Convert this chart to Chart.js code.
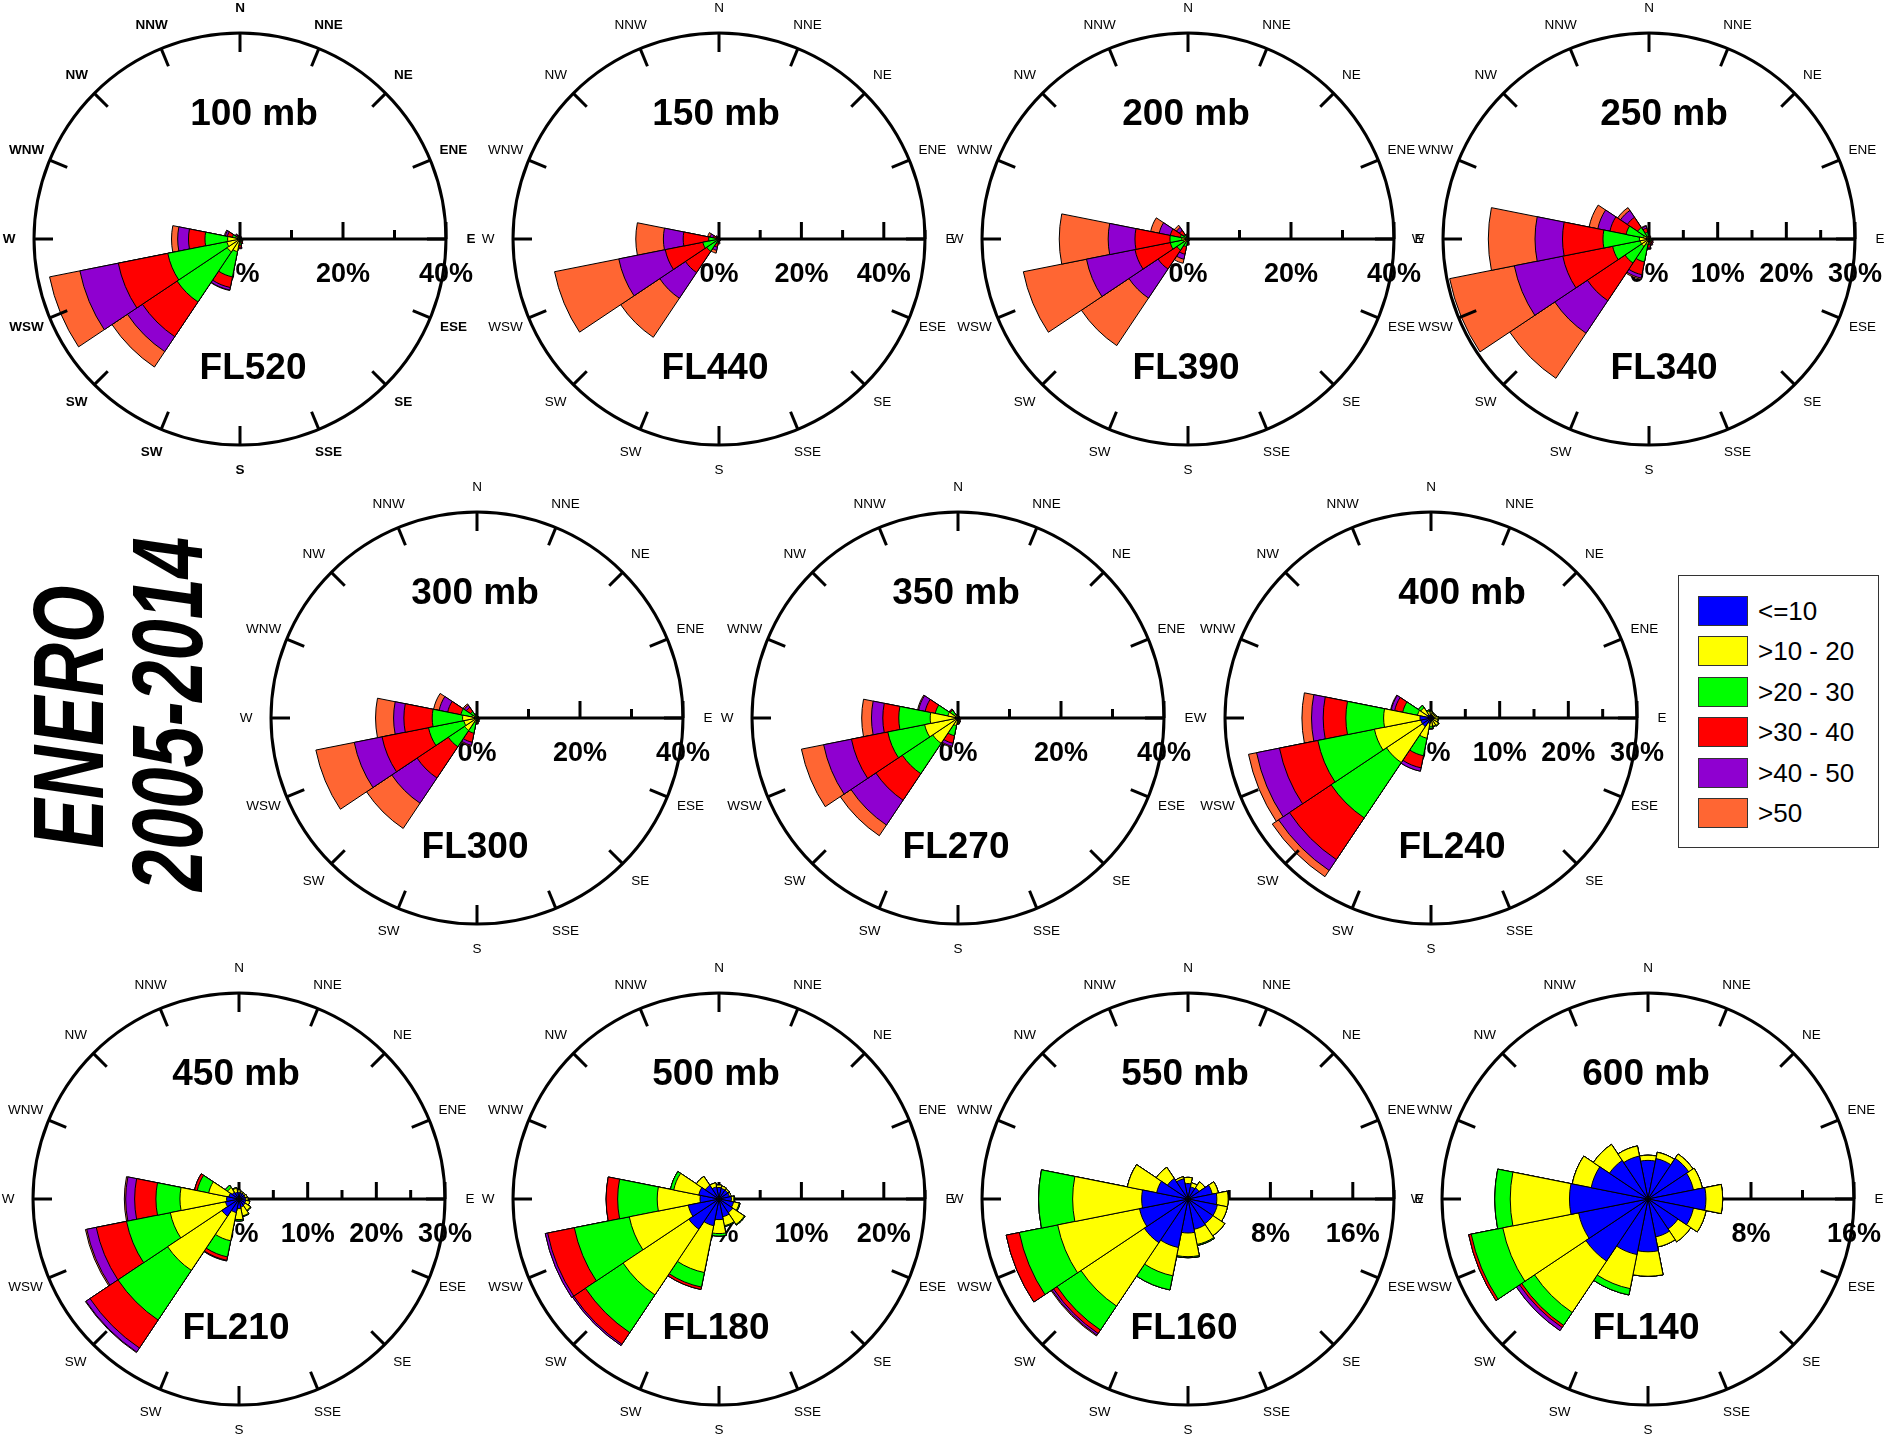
<!DOCTYPE html>
<html>
<head>
<meta charset="utf-8">
<title>ENERO 2005-2014</title>
<script src="https://cdn.jsdelivr.net/npm/chart.js@4.4.1/dist/chart.umd.min.js"></script>
<style>
  html, body { margin: 0; padding: 0; background: #fff; overflow: hidden; }
  #page { position: relative; width: 1887px; height: 1440px; overflow: hidden; background: #fff;
          font-family: "Liberation Sans", Arial, Helvetica, sans-serif; }
  #page canvas { position: absolute; }
  .side { position: absolute; font-weight: bold; font-style: italic; font-size: 100px; line-height: 1;
          white-space: nowrap; color: #000; transform-origin: center center;
          transform: translate(-50%, -50%) rotate(-90deg) scaleX(0.74); }
  #legend { position: absolute; left: 1678px; top: 575px; width: 201px; height: 273px;
            box-sizing: border-box; border: 1.5px solid #333; background: #fff; }
  #legend .item { position: absolute; left: 19px; height: 30px; display: flex; align-items: center; }
  #legend .sw { width: 50px; height: 30px; box-sizing: border-box; border: 1px solid #333; }
  #legend .tx { margin-left: 10px; font-size: 26px; line-height: 30px; color: #000; }
</style>
</head>
<body>
<div id="page">
  <div class="side" style="left:68px; top:717px;">ENERO</div>
  <div class="side" style="left:167px; top:714px;">2005-2014</div>
  <div id="legend"></div>
</div>
<script>
// Compass sectors, clockwise from north (label text as printed on the roses)
const directions = ['N','NNE','NE','ENE','E','ESE','SE','SSE','S','SW','SW','WSW','W','WNW','NW','NNW'];

// Wind speed classes (kt)
const speedClasses = ['<=10', '>10 - 20', '>20 - 30', '>30 - 40', '>40 - 50', '>50'];

// Frequency (%) per speed class (rows) and direction (columns), one table per pressure level
const mb100 = [
  [0,0,0,0,0,0,0,0,0.1,0.1,0.1,0.1,0.1,0.1,0,0],
  [0.2,0.2,0.2,0.2,0.2,0.2,0.2,0.3,0.4,2.4,2.9,2.5,2.3,0.7,0.3,0.2],
  [0.2,0.1,0.1,0.1,0.1,0.2,0.2,0.3,0.7,5.0,11.7,11.7,4.4,0.7,0.3,0.2],
  [0.1,0.1,0.1,0,0.1,0.1,0.2,0.3,0.4,2.1,8.1,9.8,3.2,1.0,0.3,0.2],
  [0.1,0.1,0,0,0,0.1,0.1,0.1,0.2,0.5,3.5,7.6,2.1,0.4,0.2,0.1],
  [0,0,0,0,0,0,0,0,0.1,0.1,3.6,6.0,1.2,0.2,0.1,0]
];
const mb150 = [
  [0,0,0,0,0,0,0,0,0,0,0,0,0,0,0,0],
  [0.1,0.1,0.1,0.1,0.1,0.1,0.1,0.1,0.1,0.3,0.5,0.6,0.5,0.2,0.1,0.1],
  [0.1,0.1,0.1,0,0.1,0.1,0.1,0.1,0.2,0.7,3.1,3.4,2.0,0.4,0.2,0.1],
  [0.1,0.1,0,0,0,0.1,0.1,0.2,0.3,1.0,6.2,9.3,6.2,0.9,0.3,0.1],
  [0,0,0,0,0,0,0.1,0.1,0.3,0.8,7.5,11.5,4.8,0.7,0.2,0.1],
  [0.1,0,0,0,0,0,0,0.1,0.3,0.7,11.4,15.9,6.7,0.6,0.2,0.1]
];
const mb200 = [
  [0,0,0,0,0,0,0,0,0,0,0,0,0,0,0,0],
  [0.1,0.1,0.1,0.1,0.1,0.1,0.1,0.1,0.2,0.4,0.8,1.0,1.2,0.5,0.3,0.2],
  [0.1,0.1,0.1,0,0.1,0.1,0.1,0.1,0.3,1.1,1.8,2.5,2.3,1.0,0.7,0.2],
  [0.1,0,0,0,0,0.1,0.1,0.1,0.3,1.5,4.4,7.0,6.8,2.0,1.0,0.3],
  [0.1,0,0,0,0,0,0,0.1,0.2,1.0,6.8,9.6,5.2,2.2,0.7,0.2],
  [0,0,0,0,0,0,0.1,0.1,0.2,0.8,11.1,12.5,9.5,1.7,0.5,0.1]
];
const mb250 = [
  [0,0,0,0,0,0,0,0,0,0,0,0,0,0,0,0],
  [0.2,0.2,0.2,0.2,0.2,0.2,0.2,0.2,0.3,0.8,1.3,1.3,1.4,0.8,0.5,0.3],
  [0.2,0.1,0.1,0.1,0.1,0.2,0.2,0.3,0.5,2.6,2.9,4.1,5.3,2.6,1.5,0.7],
  [0.1,0.1,0,0,0.1,0.1,0.2,0.3,0.4,1.9,6.6,7.4,5.9,2.4,1.8,0.6],
  [0.1,0,0,0,0,0.1,0.1,0.1,0.2,0.5,5.7,7.2,4.0,1.8,1.2,0.3],
  [0,0,0,0,0,0,0.1,0.1,0.1,0.2,7.9,9.6,6.8,1.3,0.5,0.1]
];
const mb300 = [
  [0,0,0,0,0,0,0,0,0,0,0,0,0,0,0,0],
  [0.2,0.2,0.2,0.2,0.2,0.2,0.2,0.2,0.3,0.8,2.9,2.6,2.8,1.0,0.4,0.2],
  [0.2,0.1,0.1,0.1,0.1,0.2,0.2,0.3,0.4,2.2,3.8,7.0,5.9,2.2,1.1,0.3],
  [0.1,0.1,0,0,0,0.1,0.1,0.2,0.3,1.8,7.3,9.2,5.5,2.6,1.0,0.2],
  [0,0,0,0,0,0,0.1,0.1,0.1,0.6,5.9,5.5,2.0,1.7,0.5,0.1],
  [0,0,0,0,0,0,0,0,0.1,0.2,5.9,7.6,3.5,1.1,0.3,0]
];
const mb350 = [
  [0,0,0,0,0,0,0,0,0.1,0.1,0.3,0.3,0.3,0.1,0.1,0],
  [0.2,0.2,0.2,0.2,0.2,0.2,0.2,0.3,0.4,1.4,5.6,6.3,5.1,1.9,0.7,0.3],
  [0.2,0.1,0.1,0.1,0.1,0.2,0.2,0.3,0.4,2.0,7.1,7.3,6.1,2.5,1.0,0.3],
  [0.1,0.1,0,0,0.1,0.1,0.1,0.2,0.2,1.5,6.2,7.2,3.1,2.0,0.2,0.1],
  [0,0,0,0,0,0,0.1,0.1,0.1,0.6,5.8,5.5,2.2,1.3,0.1,0],
  [0,0,0,0,0,0,0,0,0,0.2,2.5,4.4,1.9,0.2,0,0]
];
const mb400 = [
  [0.4,0.3,0.3,0.3,0.4,0.4,0.4,0.4,0.5,0.8,1.5,1.5,1.6,0.5,0.6,0.4],
  [0.5,0.4,0.4,0.5,0.6,0.6,0.9,0.8,0.7,2.2,6.3,6.9,5.3,1.5,1.2,0.6],
  [0.1,0.1,0,0,0.1,0.1,0.1,0.1,0.3,2.6,9.7,8.4,5.5,2.2,0.4,0.2],
  [0,0,0,0,0,0,0,0,0.1,1.8,7.3,5.7,3.3,1.2,0,0],
  [0,0,0,0,0,0,0,0,0,0.5,1.9,3.4,1.7,0.5,0,0],
  [0,0,0,0,0,0,0,0,0,0,1.1,1.2,1.4,0.1,0,0]
];
const mb450 = [
  [1.0,0.9,0.9,0.9,1.0,1.0,1.1,1.2,1.4,2.0,3.0,2.0,1.8,1.5,1.2,1.0],
  [0.3,0.2,0.2,0.3,0.3,0.6,0.9,1.3,1.6,4.2,9.5,8.2,6.8,3.0,0.8,0.6],
  [0,0,0,0,0,0,0.1,0.1,0.2,2.4,8.7,6.5,3.5,1.7,0.4,0.1],
  [0,0,0,0,0,0,0,0,0,0.5,4.9,4.5,3.1,0.4,0,0],
  [0,0,0,0,0,0,0,0,0,0.1,0.7,1.4,1.3,0,0,0],
  [0,0,0,0,0,0,0,0,0,0,0.1,0.2,0.2,0,0,0]
];
const mb500 = [
  [1.4,1.3,1.3,1.3,1.5,1.8,2.0,2.2,2.5,3.3,4.4,3.8,2.3,2.5,2.0,1.5],
  [0.3,0.3,0.2,0.2,0.3,0.7,1.7,1.1,1.7,5.8,9.6,7.3,5.2,3.1,1.3,0.5],
  [0,0,0,0,0.1,0.1,0.1,0.1,0.3,1.8,5.5,6.8,4.8,0.4,0,0],
  [0,0,0,0,0,0,0,0,0,0.3,1.7,3.3,1.4,0,0,0],
  [0,0,0,0,0,0,0,0,0,0,0.2,0.3,0,0,0,0],
  [0,0,0,0,0,0,0,0,0,0,0,0,0,0,0,0]
];
const mb550 = [
  [1.5,1.2,1.3,2.4,2.8,2.9,2.9,3.0,3.3,4.8,5.1,4.8,4.5,3.1,2.4,2.0],
  [0.6,0.4,0.7,0.6,1.1,1.0,1.4,1.5,2.3,2.8,7.4,8.1,6.7,2.9,1.3,0.2],
  [0,0,0,0,0,0,0,0.1,0.1,1.4,2.8,3.8,3.3,0,0,0],
  [0,0,0,0,0,0,0,0,0,0,0.4,1.3,0,0,0,0],
  [0,0,0,0,0,0,0,0,0,0,0.2,0,0,0,0,0],
  [0,0,0,0,0,0,0,0,0,0,0.1,0,0,0,0,0]
];
const mb600 = [
  [3.0,3.2,3.8,3.6,4.5,3.6,2.8,3.0,4.1,4.4,5.8,5.5,6.1,4.5,3.6,3.4],
  [0.4,0.5,0.4,0.7,1.3,1.0,1.2,0.8,1.9,2.7,4.8,6.0,4.6,1.5,1.5,0.8],
  [0,0,0,0,0,0,0,0,0,0.5,1.2,2.5,1.2,0,0,0],
  [0,0,0,0,0,0,0,0,0,0,0.2,0.2,0,0,0,0],
  [0,0,0,0,0,0,0,0,0,0,0.3,0,0,0,0,0],
  [0,0,0,0,0,0,0,0,0,0,0,0,0,0,0,0]
];

const levels       = ['100 mb','150 mb','200 mb','250 mb','300 mb','350 mb','400 mb','450 mb','500 mb','550 mb','600 mb'];
const flightLevels = ['FL520','FL440','FL390','FL340','FL300','FL270','FL240','FL210','FL180','FL160','FL140'];
const levelTables  = [mb100, mb150, mb200, mb250, mb300, mb350, mb400, mb450, mb500, mb550, mb600];

// Radial axis range (%) and spacing of ticks / labelled ticks
const axisMax   = [40, 50, 40, 30, 40, 40, 30, 30, 25, 20, 16];
const tickStep  = [10, 10, 10,  5, 10, 10,  5,  5,  5,  4,  4];
const labelStep = [20, 20, 20, 10, 20, 20, 10, 10, 10,  8,  8];

// ---- presentation ----
const classColors = ['#0000FF', '#FFFF00', '#00FF00', '#FF0000', '#8F00D0', '#FF6633'];
const FONT = '"Liberation Sans", Arial, Helvetica, sans-serif';
const roseCenters = [[239.5,239],[719,239],[1188,239],[1649,239],
                     [477,718],[958,718],[1431,718],
                     [239,1199],[719,1199],[1188,1199],[1648,1199]];
const titleShift = [14, -3, -2, 15, -2, -2, 31, -3, -3, -3, -2];
const flShift    = [13, -4, -2, 15, -2, -2, 21, -3, -3, -4, -2];
const CANVAS = 540, RADIUS = 206;

// Running totals so that each speed class is drawn as a ring outside the slower ones
function stackOutward(rows) {
  const out = [];
  rows.forEach((row, k) => {
    out.push(row.map((v, i) => +((k ? out[k - 1][i] : 0) + v).toFixed(3)));
  });
  return out;
}

const roseFrame = {
  id: 'roseFrame',
  beforeDatasetsDraw(chart, args, opts) {
    const r = chart.scales.r, ctx = chart.ctx;
    const cx = r.xCenter, cy = r.yCenter, R = r.drawingArea;
    ctx.save();
    ctx.strokeStyle = '#000';
    ctx.fillStyle = '#000';
    ctx.lineWidth = 3;
    ctx.beginPath();
    ctx.moveTo(cx, cy);
    ctx.lineTo(cx + R, cy);
    ctx.stroke();
    ctx.font = 'bold 27px ' + FONT;
    ctx.textAlign = 'center';
    ctx.textBaseline = 'middle';
    r.ticks.forEach(t => {
      const d = r.getDistanceFromCenterForValue(t.value);
      const major = Math.abs(t.value / opts.labelStep - Math.round(t.value / opts.labelStep)) < 1e-6;
      ctx.beginPath();
      ctx.moveTo(cx + d, cy);
      ctx.lineTo(cx + d, cy - (major ? 17 : 9));
      ctx.stroke();
      if (major) ctx.fillText(t.value + '%', cx + d, cy + 36);
    });
    ctx.restore();
  },
  afterDatasetsDraw(chart, args, opts) {
    const r = chart.scales.r, ctx = chart.ctx;
    const cx = r.xCenter, cy = r.yCenter, R = r.drawingArea;
    const half = Math.PI / chart.data.labels.length;
    ctx.save();
    ctx.strokeStyle = '#000';
    ctx.fillStyle = '#000';
    ctx.lineWidth = 3;
    ctx.beginPath();
    ctx.arc(cx, cy, R, 0, Math.PI * 2);
    ctx.stroke();
    ctx.font = (opts.boldCompass ? 'bold ' : '') + '13.5px ' + FONT;
    ctx.textAlign = 'center';
    ctx.textBaseline = 'middle';
    chart.data.labels.forEach((name, i) => {
      const a = r.getPointPosition(i, R, half);
      const b = r.getPointPosition(i, R - 19, half);
      ctx.beginPath();
      ctx.moveTo(a.x, a.y);
      ctx.lineTo(b.x, b.y);
      ctx.stroke();
      const p = r.getPointPosition(i, R + 25, half);
      ctx.fillText(name, p.x, p.y);
    });
    ctx.font = 'bold 37px ' + FONT;
    ctx.fillText(opts.level, cx + opts.titleDx, cy - 124);
    ctx.fillText(opts.flight, cx + opts.flDx, cy + 129.5);
    ctx.restore();
  }
};

const page = document.getElementById('page');
const legendBox = document.getElementById('legend');

levelTables.forEach((table, p) => {
  const canvas = document.createElement('canvas');
  canvas.width = CANVAS;
  canvas.height = CANVAS;
  canvas.style.width = CANVAS + 'px';
  canvas.style.height = CANVAS + 'px';
  canvas.style.left = Math.round(roseCenters[p][0] - CANVAS / 2) + 'px';
  canvas.style.top = Math.round(roseCenters[p][1] - CANVAS / 2) + 'px';
  page.insertBefore(canvas, legendBox);

  const rings = stackOutward(table);
  new Chart(canvas, {
    type: 'polarArea',
    data: {
      labels: directions,
      datasets: speedClasses.map((name, k) => ({
        label: name,
        data: rings[k],
        backgroundColor: classColors[k],
        borderColor: '#000',
        borderWidth: 1
      }))
    },
    options: {
      responsive: false,
      animation: false,
      events: [],
      layout: { padding: (CANVAS - 2 * RADIUS) / 2 },
      plugins: {
        legend: { display: false },
        tooltip: { enabled: false },
        roseFrame: {
          level: levels[p],
          flight: flightLevels[p],
          labelStep: labelStep[p],
          titleDx: titleShift[p],
          flDx: flShift[p],
          boldCompass: p === 0
        }
      },
      scales: {
        r: {
          min: 0,
          max: axisMax[p],
          startAngle: -180 / directions.length,
          ticks: { display: false, stepSize: tickStep[p] },
          grid: { display: false },
          angleLines: { display: false },
          pointLabels: { display: false }
        }
      }
    },
    plugins: [roseFrame]
  });
});

// Speed class key
speedClasses.forEach((name, k) => {
  const item = document.createElement('div');
  item.className = 'item';
  item.style.top = (19.5 + k * 40.5) + 'px';
  const sw = document.createElement('span');
  sw.className = 'sw';
  sw.style.background = classColors[k];
  const tx = document.createElement('span');
  tx.className = 'tx';
  tx.textContent = name;
  item.appendChild(sw);
  item.appendChild(tx);
  legendBox.appendChild(item);
});
</script>
</body>
</html>
